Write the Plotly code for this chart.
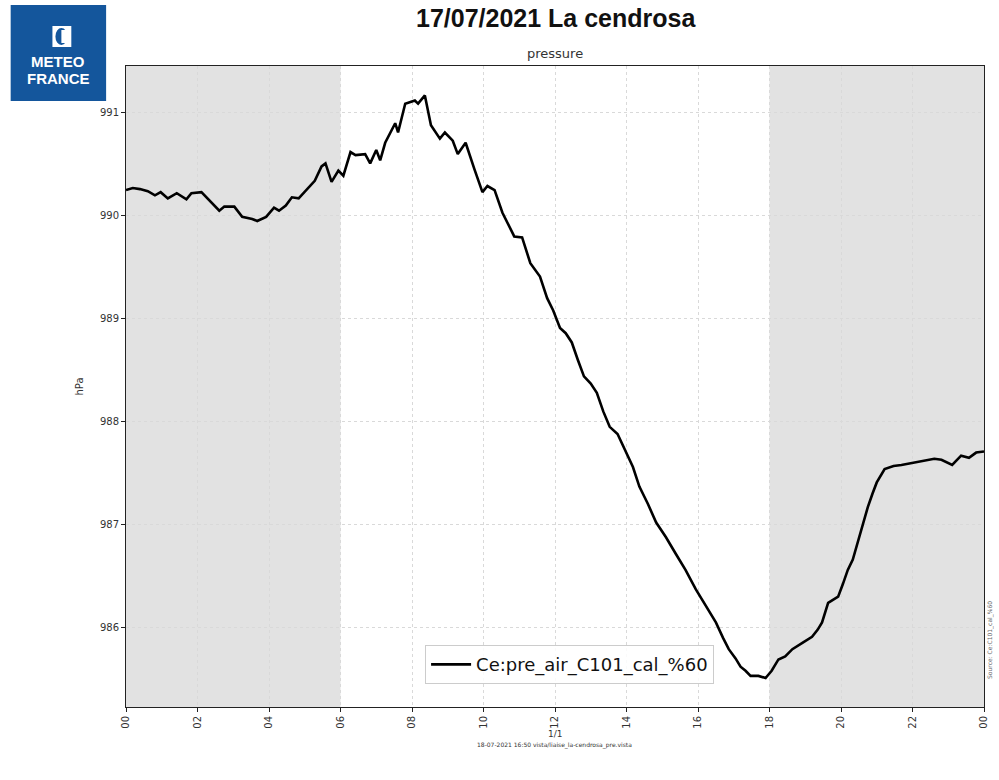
import plotly.graph_objects as go

# Station pressure on 17/07/2021 at La Cendrosa (hours since 00 UTC, hPa)
hours = [0.00, 0.19, 0.39, 0.61, 0.81, 0.97, 1.17, 1.42, 1.69, 1.83,
         2.11, 2.28, 2.61, 2.75, 3.03, 3.25, 3.53, 3.67, 3.92, 4.14,
         4.28, 4.47, 4.64, 4.83, 5.11, 5.28, 5.47, 5.58, 5.75, 5.94,
         6.08, 6.28, 6.42, 6.69, 6.83, 7.00, 7.11, 7.25, 7.53, 7.61,
         7.81, 7.97, 8.08, 8.17, 8.36, 8.53, 8.78, 8.92, 9.14, 9.28,
         9.50, 9.75, 9.97, 10.11, 10.31, 10.53, 10.67, 10.86, 11.08, 11.31,
         11.58, 11.78, 11.95, 12.14, 12.30, 12.47, 12.64, 12.81, 13.00, 13.17,
         13.35, 13.53, 13.75, 14.00, 14.18, 14.36, 14.60, 14.83, 15.10, 15.39,
         15.65, 15.94, 16.20, 16.50, 16.70, 16.86, 17.05, 17.19, 17.33, 17.47,
         17.69, 17.89, 18.06, 18.25, 18.44, 18.64, 18.92, 19.19, 19.35, 19.47,
         19.64, 19.92, 20.05, 20.19, 20.33, 20.47, 20.67, 20.75, 20.88, 21.00,
         21.22, 21.47, 21.69, 22.00, 22.33, 22.61, 22.81, 23.11, 23.36, 23.58,
         23.78, 24.00]
pressure = [990.25, 990.27, 990.26, 990.24, 990.20, 990.23, 990.17, 990.22, 990.16, 990.22,
            990.23, 990.17, 990.05, 990.09, 990.09, 989.99, 989.97, 989.95, 989.99, 990.08,
            990.05, 990.10, 990.18, 990.17, 990.28, 990.34, 990.48, 990.51, 990.33, 990.44,
            990.39, 990.62, 990.59, 990.60, 990.51, 990.64, 990.54, 990.71, 990.90, 990.81,
            991.09, 991.11, 991.12, 991.09, 991.17, 990.88, 990.75, 990.81, 990.73, 990.60,
            990.71, 990.45, 990.23, 990.29, 990.25, 990.03, 989.93, 989.80, 989.79, 989.54,
            989.41, 989.20, 989.08, 988.91, 988.86, 988.77, 988.60, 988.44, 988.37, 988.28,
            988.10, 987.95, 987.88, 987.70, 987.56, 987.37, 987.20, 987.02, 986.88, 986.71,
            986.56, 986.37, 986.22, 986.05, 985.90, 985.79, 985.70, 985.62, 985.58, 985.53,
            985.53, 985.51, 985.58, 985.69, 985.72, 985.79, 985.85, 985.91, 985.98, 986.05,
            986.24, 986.30, 986.42, 986.56, 986.66, 986.83, 987.08, 987.17, 987.30, 987.41,
            987.54, 987.57, 987.58, 987.60, 987.62, 987.64, 987.63, 987.58, 987.67, 987.65,
            987.70, 987.71]

series_name = "Ce:pre_air_C101_cal_%60"
hour_ticks = list(range(0, 25, 2))
hour_labels = ["00", "02", "04", "06", "08", "10", "12", "14", "16", "18", "20", "22", "00"]
y_ticks = [986, 987, 988, 989, 990, 991]
night_periods = [(0, 6), (18, 24)]

# Plot-area geometry in pixels, used to place page furniture in paper units
L, T, W, H = 126, 66, 863, 641


def px(x):
    return (x - L) / W


def py(y):
    return (T + H - y) / H


fig = go.Figure()

fig.add_trace(go.Scatter(
    x=hours, y=pressure, mode="lines", name=series_name,
    line=dict(color="black", width=2.6),
))

# Night-time shading
for start, end in night_periods:
    fig.add_shape(type="rect", xref="x", yref="paper", x0=start, x1=end, y0=0, y1=1,
                  fillcolor="#e2e2e2", line=dict(width=0), layer="below")

# Meteo-France badge
fig.add_shape(type="rect", xref="paper", yref="paper",
              x0=px(10), x1=px(106), y0=py(101), y1=py(5),
              fillcolor="#14569c", line=dict(width=0))
fig.add_shape(type="rect", xref="paper", yref="paper",
              x0=px(52), x1=px(71), y0=py(47), y1=py(26),
              fillcolor="white", line=dict(width=0))
fig.add_shape(type="circle", xref="paper", yref="paper",
              x0=px(55), x1=px(67), y0=py(45), y1=py(28),
              fillcolor="#14569c", line=dict(width=0))
fig.add_shape(type="rect", xref="paper", yref="paper",
              x0=px(61), x1=px(68), y0=py(43), y1=py(30),
              fillcolor="white", line=dict(width=0))


def note(text, x, y, size, family="DejaVu Sans", color="#333", angle=0):
    fig.add_annotation(text=text, xref="paper", yref="paper", x=px(x), y=py(y),
                       xanchor="center", yanchor="middle", showarrow=False,
                       textangle=angle, font=dict(family=family, size=size, color=color))


note("<b>METEO</b>", 58, 62, 15, "Liberation Sans, Arial", "white")
note("<b>FRANCE</b>", 58, 78, 15, "Liberation Sans, Arial", "white")

# Titles
note("<b>17/07/2021 La cendrosa</b>", 559, 18, 25, "Liberation Sans, Arial", "#111")
note("pressure", 558, 53, 13)

# Footer
note("1/1", 557, 734, 9)
note("18-07-2021 16:50 vista/liaise_la-cendrosa_pre.vista", 557, 745, 6)
note("Source: Ce:C101_cal_%60", 995, 640, 6, color="#666", angle=-90)

fig.update_layout(
    width=999, height=780,
    margin=dict(l=L, r=999 - L - W, t=T, b=780 - T - H),
    paper_bgcolor="white", plot_bgcolor="white",
    font=dict(family="DejaVu Sans", color="#333", size=10),
    showlegend=True,
    legend=dict(x=0.517, y=0.066, xanchor="center", yanchor="middle",
                bgcolor="rgba(255,255,255,0.85)", bordercolor="#cccccc", borderwidth=1,
                itemwidth=40,
                font=dict(family="DejaVu Sans", size=18, color="#111")),
    xaxis=dict(range=[0, 24], tickvals=hour_ticks, ticktext=hour_labels, tickangle=-90,
               showgrid=True, gridcolor="#d9d9d9", griddash="dot", gridwidth=1,
               showline=True, linecolor="#222", linewidth=1, mirror=True,
               ticks="outside", ticklen=4, tickcolor="#222",
               tickfont=dict(family="DejaVu Sans", size=10, color="#333"),
               zeroline=False),
    yaxis=dict(range=[985.228, 991.456], tickvals=y_ticks,
               showgrid=True, gridcolor="#d9d9d9", griddash="dot", gridwidth=1,
               showline=True, linecolor="#222", linewidth=1, mirror=True,
               ticks="outside", ticklen=4, tickcolor="#222",
               tickfont=dict(family="DejaVu Sans", size=10, color="#333"),
               title=dict(text="hPa", standoff=14,
                          font=dict(family="DejaVu Sans", size=10, color="#333")),
               zeroline=False),
)

fig.write_html("out.html")
